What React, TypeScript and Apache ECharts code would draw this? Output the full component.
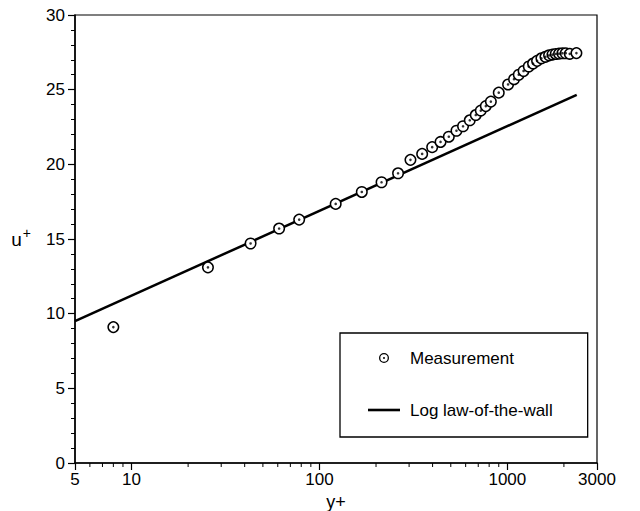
import React, { useEffect, useRef } from "react";
import * as echarts from "echarts";

// Measured mean-velocity profile (y+, u+)
const measYPlus = [
  8, 25.5, 43, 61, 78, 122, 168, 214, 262, 305, 352, 398, 441, 488, 536, 581,
  631, 679, 722, 768, 817, 900, 1009, 1085, 1150, 1220, 1300, 1370, 1439,
  1518, 1595, 1667, 1738, 1809, 1884, 1964, 2045, 2148, 2331,
];
const measUPlus = [
  9.1, 13.1, 14.7, 15.7, 16.3, 17.35, 18.15, 18.8, 19.4, 20.3, 20.7, 21.15,
  21.5, 21.85, 22.25, 22.55, 22.95, 23.3, 23.6, 23.9, 24.2, 24.8, 25.35, 25.7,
  26.0, 26.25, 26.55, 26.75, 26.93, 27.1, 27.2, 27.3, 27.35, 27.39, 27.41,
  27.44, 27.44, 27.4, 27.45,
];

// Log law-of-the-wall (straight on log axis): end points
const lawYPlus = [5, 2340];
const lawUPlus = [9.5, 24.65];

// Axis ticks
const xMinorTicks = [
  6, 7, 8, 9, 20, 30, 40, 50, 60, 70, 80, 90, 200, 300, 400, 500, 600, 700,
  800, 900, 2000,
];
const xMin = 5;
const xMax = 3000;
const yMin = 0;
const yMax = 30;
const yInterval = 5;

const seriesNames = ["Measurement", "Log law-of-the-wall"];

const FONT = "'Liberation Sans', Arial, Helvetica, sans-serif";
const ringDotIcon =
  "path://M10,0 A10,10 0 1,1 10,20 A10,10 0 1,1 10,0 Z M10,2.6 A7.4,7.4 0 1,0 10,17.4 A7.4,7.4 0 1,0 10,2.6 Z M10,8 A2,2 0 1,1 10,12 A2,2 0 1,1 10,8 Z";
const lineIcon = "path://M0,0 L32,0 L32,2.6 L0,2.6 Z";

export default function App() {
  const ref = useRef<HTMLDivElement>(null);

  useEffect(() => {
    document.body.style.margin = "0";
    if (!ref.current) return;
    const chart = echarts.init(ref.current, undefined, { renderer: "svg" });

    const measData = measYPlus.map((x, i) => [x, measUPlus[i]]);
    const lawData = lawYPlus.map((x, i) => [x, lawUPlus[i]]);

    chart.setOption({
      animation: false,
      backgroundColor: "#ffffff",
      textStyle: { fontFamily: FONT, color: "#000" },
      grid: {
        left: 75,
        top: 15,
        right: 43,
        bottom: 48,
        show: true,
        borderColor: "#000",
        borderWidth: 1.2,
        backgroundColor: "transparent",
        containLabel: false,
        outerBoundsMode: "none",
      },
      legend: {
        orient: "vertical",
        left: 340,
        top: 333,
        padding: [15, 35, 17, 28],
        itemGap: 32,
        itemWidth: 32,
        itemHeight: 10,
        borderColor: "#000",
        borderWidth: 1.3,
        backgroundColor: "#fff",
        textStyle: {
          fontFamily: FONT,
          fontSize: 17,
          color: "#000",
          lineHeight: 20,
          padding: [0, 0, 0, 5],
        },
        data: [
          {
            name: seriesNames[0],
            icon: ringDotIcon,
            itemStyle: { color: "#000", borderWidth: 0 },
          },
          {
            name: seriesNames[1],
            icon: lineIcon,
            itemStyle: { color: "#000", borderWidth: 0 },
          },
        ],
      },
      xAxis: {
        type: "log",
        logBase: 10,
        min: xMin,
        max: xMax,
        name: "y+",
        nameLocation: "middle",
        nameGap: 27,
        nameTextStyle: { fontFamily: FONT, fontSize: 18, color: "#000" },
        axisLine: { show: true, lineStyle: { color: "#000", width: 1.5 } },
        axisTick: { show: true, inside: false, length: 7, lineStyle: { color: "#000", width: 1.2 } },
        minorTick: { show: false },
        axisLabel: {
          fontFamily: FONT,
          fontSize: 17,
          color: "#000",
          margin: 8,
          showMinLabel: true,
          showMaxLabel: true,
          formatter: (v: number) => String(Math.round(v)),
        },
        splitLine: { show: false },
      },
      yAxis: {
        type: "value",
        min: yMin,
        max: yMax,
        interval: yInterval,
        name: "{u|u}{s|+}",
        nameLocation: "middle",
        nameGap: 44,
        nameRotate: 0,
        nameTextStyle: {
          fontFamily: FONT,
          color: "#000",
          rich: {
            u: { fontFamily: FONT, fontSize: 19, color: "#000" },
            s: { fontFamily: FONT, fontSize: 14, color: "#000", padding: [0, 0, 13, 1] },
          },
        },
        axisLine: { show: true, lineStyle: { color: "#000", width: 1.5 } },
        axisTick: { show: true, inside: false, length: 7, lineStyle: { color: "#000", width: 1.2 } },
        minorTick: { show: true, splitNumber: 5, length: 4, lineStyle: { color: "#000", width: 1 } },
        axisLabel: { fontFamily: FONT, fontSize: 17, color: "#000", margin: 10 },
        splitLine: { show: false },
        minorSplitLine: { show: false },
      },
      series: [
        {
          name: seriesNames[1],
          type: "line",
          data: lawData,
          symbol: "none",
          showSymbol: false,
          lineStyle: { color: "#000", width: 2.5 },
          itemStyle: { color: "#000" },
          z: 2,
        },
        {
          name: seriesNames[0],
          type: "scatter",
          data: measData,
          symbol: "circle",
          symbolSize: 10.5,
          itemStyle: { color: "#fff", borderColor: "#000", borderWidth: 1.5, opacity: 1 },
          z: 3,
        },
        {
          name: "centre-dots",
          type: "scatter",
          data: measData,
          symbol: "circle",
          symbolSize: 2.6,
          itemStyle: { color: "#000" },
          silent: true,
          z: 4,
        },
        {
          name: "x-minor-ticks",
          type: "custom",
          silent: true,
          clip: false,
          z: 5,
          data: xMinorTicks.map((v) => [v, yMin]),
          renderItem: (params: any, api: any) => {
            const p = api.coord([api.value(0), yMin]);
            return {
              type: "line",
              shape: { x1: p[0], y1: p[1], x2: p[0], y2: p[1] + 4 },
              style: { stroke: "#000", lineWidth: 1 },
            };
          },
        },
      ],
    });

    return () => chart.dispose();
  }, []);

  return <div ref={ref} style={{ width: 640, height: 511 }} />;
}
